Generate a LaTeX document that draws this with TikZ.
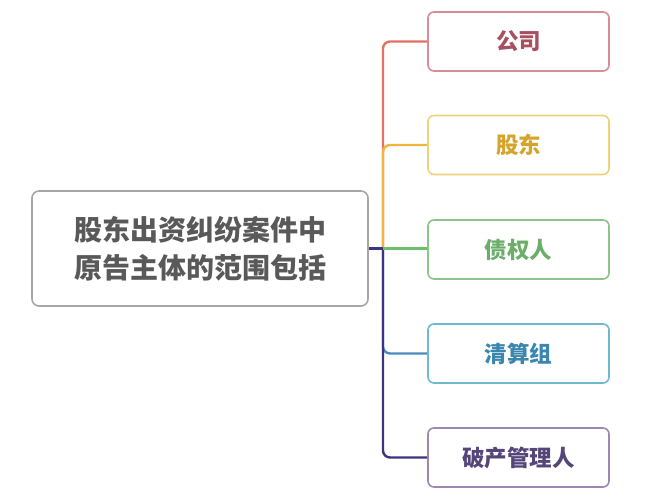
\documentclass[tikz,border=0pt]{standalone}
\usepackage{fontspec}
\newfontfamily\cjk{Noto Sans CJK SC}[BoldFont={Noto Sans CJK SC Black}]
\definecolor{lred}{HTML}{E57164}
\definecolor{lyel}{HTML}{F2B53A}
\definecolor{lgrn}{HTML}{6DBE6A}
\definecolor{lblu}{HTML}{4A8CC0}
\definecolor{lnav}{HTML}{3B347F}
\definecolor{bred}{HTML}{D98C95}
\definecolor{byel}{HTML}{EDD27A}
\definecolor{bgrn}{HTML}{8CC48C}
\definecolor{bblu}{HTML}{70B8D0}
\definecolor{bpur}{HTML}{9A8AB0}
\definecolor{tred}{HTML}{A8505E}
\definecolor{tyel}{HTML}{D6A42A}
\definecolor{tgrn}{HTML}{6AAE6A}
\definecolor{tblu}{HTML}{3B86AE}
\definecolor{tpur}{HTML}{55467A}
\definecolor{tgray}{HTML}{595959}
\definecolor{bgray}{HTML}{A6A6A6}
\tikzset{
  leaf/.style={draw, line width=1.6pt, rounded corners=6pt, fill=white,
    minimum width=181pt, minimum height=59pt, inner sep=0pt,
    font=\cjk\bfseries\fontsize{22.5}{26}\selectfont},
  rootbox/.style={draw=bgray, line width=1.6pt, rounded corners=7pt, fill=white,
    minimum width=336pt, minimum height=115pt, inner sep=0pt, text=tgray,
    align=center, font=\cjk\bfseries\fontsize{28}{38}\selectfont},
  branch/.style={line width=2.4pt, rounded corners=7pt}
}
\begin{document}
\begin{tikzpicture}[x=1pt,y=-1pt]
\useasboundingbox (0,0) rectangle (663,503);
\node[rootbox] (root) at (200,248.5) {股东出资纠纷案件中\\原告主体的范围包括};
\node[leaf, draw=bred, text=tred] (a) at (518.5,41.5) {公司};
\node[leaf, draw=byel, text=tyel] (b) at (518.5,145) {股东};
\node[leaf, draw=bgrn, text=tgrn] (c) at (518.5,249.5) {债权人};
\node[leaf, draw=bblu, text=tblu] (d) at (518.5,353.5) {清算组};
\node[leaf, draw=bpur, text=tpur] (e) at (518.5,457.5) {破产管理人};
\coordinate (j) at (383,248.5);
\draw[branch, lred] (j) |- (a.west);
\draw[branch, lyel] (j) |- (b.west);
\draw[branch, lblu] (j) |- (d.west);
\draw[branch, lnav] (j) |- (e.west);
\draw[branch, lgrn] (j) -- (c.west |- j);
\draw[branch, lnav, rounded corners=0pt] (root.east |- j) -- (j);
\end{tikzpicture}
\end{document}
